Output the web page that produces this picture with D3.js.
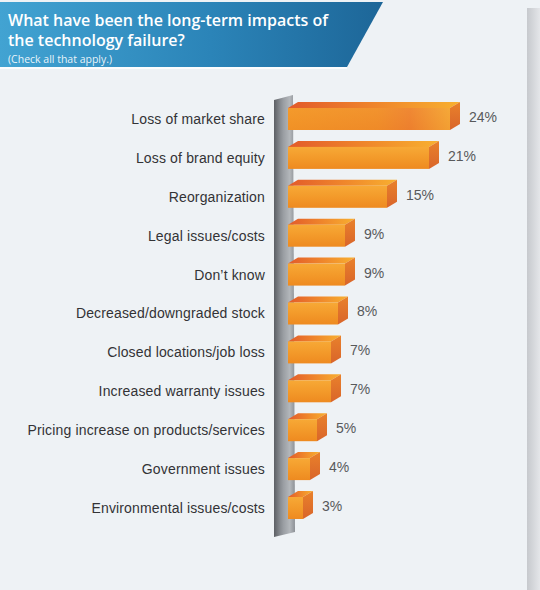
<!DOCTYPE html>
<html>
<head>
<meta charset="utf-8">
<script src="https://cdn.jsdelivr.net/npm/d3@7"></script>
<style>
  html, body { margin: 0; padding: 0; background: #eef2f5; }
  svg { display: block; }
</style>
</head>
<body>
<div id="chart"></div>
<script>
const width = 540;
const height = 590;

const categories = [
    "Loss of market share",
    "Loss of brand equity",
    "Reorganization",
    "Legal issues/costs",
    "Don’t know",
    "Decreased/downgraded stock",
    "Closed locations/job loss",
    "Increased warranty issues",
    "Pricing increase on products/services",
    "Government issues",
    "Environmental issues/costs"
];
const values = [24, 21, 15, 9, 9, 8, 7, 7, 5, 4, 3];

const titleLines = ["What have been the long-term impacts of", "the technology failure?"];
const subtitle = "(Check all that apply.)";

const svg = d3.select("#chart")
  .append("svg")
    .attr("width", width)
    .attr("height", height);

const defs = svg.append("defs");

function gradient(id, stops, horizontal) {
    const g = defs.append("linearGradient")
        .attr("id", id)
        .attr("x1", 0).attr("y1", 0)
        .attr("x2", horizontal ? 1 : 0).attr("y2", horizontal ? 0 : 1);
    stops.forEach(s => g.append("stop").attr("offset", s[0]).attr("stop-color", s[1]));
}

gradient("banner", [[0, "#42a3d2"], [0.55, "#2b84b8"], [1, "#1d6698"]], true);
gradient("shadow", [[0, "#c6c9cd"], [1, "#e4e6e9"]], true);
gradient("pillar", [[0, "#5c5f64"], [0.3, "#888c91"], [0.45, "#9a9ea3"], [0.75, "#b3b7bb"], [1, "#8d9196"]], true);
gradient("front", [[0, "#f7a936"], [0.5, "#f39a2a"], [1, "#ee8a20"]], false);
gradient("frontH", [[0, "#f29428"], [0.55, "#ef8a2b"], [0.75, "#ec7a33"], [1, "#f4a83a"]], true);
gradient("topface", [[0, "#e25a2a"], [0.5, "#ef852b"], [1, "#f8b030"]], true);
gradient("side", [[0, "#e9812b"], [1, "#d9652a"]], false);

// page background and right-hand shadow
svg.append("rect")
    .attr("width", width).attr("height", height)
    .attr("fill", "#eef2f5");
svg.append("rect")
    .attr("x", 527).attr("y", 8)
    .attr("width", 13).attr("height", height - 8)
    .attr("fill", "url(#shadow)");

// title banner
svg.append("path")
    .attr("d", "M0,2 L383,2 L347,67 L0,67 Z")
    .attr("fill", "url(#banner)");
svg.append("path")
    .attr("d", "M0,68 L347,68")
    .attr("stroke", "#ffffff")
    .attr("stroke-width", 1.5);

const title = svg.append("g")
    .attr("fill", "#ffffff")
    .style("font-family", "'Open Sans', sans-serif");

title.selectAll("text.title")
  .data(titleLines)
  .join("text")
    .attr("class", "title")
    .attr("x", 8)
    .attr("y", (d, i) => 26 + i * 20)
    .style("font-size", "16px")
    .style("font-weight", 600)
    .text(d => d);

title.append("text")
    .attr("x", 8)
    .attr("y", 63)
    .style("font-size", "10.5px")
    .attr("fill-opacity", 0.9)
    .text(subtitle);

// scales
const x = d3.scaleLinear()
    .domain([0, 24])
    .range([282, 450]);

const y = d3.scalePoint()
    .domain(categories)
    .range([119, 508]);

const barH = 22;
const depthX = 10;
const depthY = 6;
const x0 = x(0) + 6;

// pillar (axis)
const py0 = y(categories[0]) - 19;
const py1 = y(categories[categories.length - 1]) + 29;
svg.append("path")
    .attr("d", `M${x(0) - 8},${py0} L${x(0) + 11},${py0 - 5} L${x(0) + 13},${py1 - 5} L${x(0) - 8},${py1} Z`)
    .attr("fill", "url(#pillar)");

// category labels
svg.append("g")
  .selectAll("text")
  .data(categories)
  .join("text")
    .attr("x", 265)
    .attr("y", d => y(d))
    .attr("dy", "0.35em")
    .attr("text-anchor", "end")
    .attr("fill", "#333336")
    .style("font-family", "'Liberation Sans', Arial, sans-serif")
    .style("font-size", "14px")
    .style("letter-spacing", "0.15px")
    .text(d => d);

// bars
const bars = svg.append("g")
  .selectAll("g")
  .data(categories.map((c, i) => ({ c, v: values[i] })))
  .join("g");

bars.append("path")
    .attr("d", d => {
        const top = y(d.c) - barH / 2;
        return `M${x0},${top} L${x0 + depthX},${top - depthY} L${x(d.v) + depthX},${top - depthY} L${x(d.v)},${top} Z`;
    })
    .attr("fill", "url(#topface)");

bars.append("path")
    .attr("d", d => {
        const top = y(d.c) - barH / 2;
        return `M${x(d.v)},${top} L${x(d.v) + depthX},${top - depthY} L${x(d.v) + depthX},${top + barH - depthY} L${x(d.v)},${top + barH} Z`;
    })
    .attr("fill", "url(#side)");

bars.append("rect")
    .attr("x", x0)
    .attr("y", d => y(d.c) - barH / 2)
    .attr("width", d => x(d.v) - x0)
    .attr("height", barH)
    .attr("fill", "url(#front)");

bars.filter((d, i) => i === 0)
  .append("rect")
    .attr("x", x0)
    .attr("y", d => y(d.c) - barH / 2)
    .attr("width", d => x(d.v) - x0)
    .attr("height", barH)
    .attr("fill", "url(#frontH)")
    .attr("opacity", 0.7);

// value labels
bars.append("text")
    .attr("x", d => x(d.v) + depthX + 9)
    .attr("y", d => y(d.c) - 2)
    .attr("dy", "0.35em")
    .attr("fill", "#58595b")
    .style("font-family", "'Liberation Sans', Arial, sans-serif")
    .style("font-size", "14px")
    .text(d => d.v + "%");
</script>
</body>
</html>
